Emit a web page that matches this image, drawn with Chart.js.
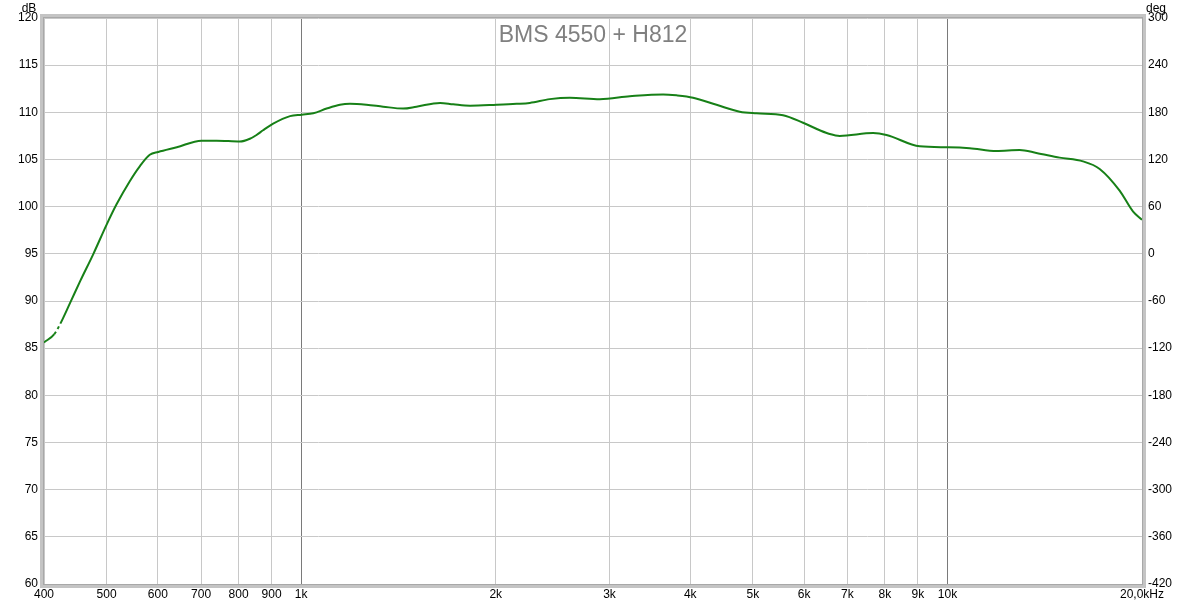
<!DOCTYPE html>
<html><head><meta charset="utf-8">
<script src="https://cdn.jsdelivr.net/npm/chart.js@4/dist/chart.umd.min.js"></script>
<style>html,body{margin:0;padding:0;background:#fff;overflow:hidden}</style>
</head><body>
<canvas id="c" width="1200" height="606"></canvas>
<script>
const titleText = 'BMS 4550 + H812';
const freqs = [400,415,424,439,455,477,500,518,543,563,583,601,642,701,740,804,833,853,873,905,961,1002,1044,1095,1148,1190,1262,1339,1438,1508,1640,1719,1825,2006,2154,2258,2425,2604,2898,3225,3631,3808,4040,4392,4771,5064,5567,5978,6344,6574,6812,7672,8047,9058,10016,10824,11908,12932,13729,14914,16210,17201,18467,19364,20000];
const spl = [85.6,86.5,87.6,89.8,92.1,95.0,98.1,100.25,102.7,104.3,105.5,105.8,106.3,107.0,107.0,106.9,107.2,107.6,108.1,108.8,109.6,109.75,109.9,110.4,110.8,110.9,110.8,110.6,110.4,110.6,111.0,110.85,110.7,110.8,110.9,111.0,111.4,111.55,111.4,111.7,111.9,111.8,111.55,110.8,110.07,109.9,109.7,108.9,108.1,107.7,107.5,107.8,107.6,106.4,106.3,106.2,105.9,106.0,105.7,105.2,104.8,104.0,101.7,99.5,98.6];
const xTickValues = [400,500,600,700,800,900,1000,2000,3000,4000,5000,6000,7000,8000,9000,10000,20000];
const xTickLabels = ['400','500','600','700','800','900','1k','2k','3k','4k','5k','6k','7k','8k','9k','10k','20,0kHz'];
const dbTicks = [60,65,70,75,80,85,90,95,100,105,110,115,120];
const degTicks = [-420,-360,-300,-240,-180,-120,-60,0,60,120,180,240,300];

const tickFont = {family: 'Arial, "Liberation Sans", sans-serif', size: 12};

const overlay = {
  id: 'overlay',
  afterDatasetsDraw(chart) {
    const {ctx, chartArea: a} = chart;
    ctx.save();
    ctx.strokeStyle = '#c4c4c4';
    ctx.lineWidth = 4;
    ctx.strokeRect(a.left - 2, a.top - 2, a.right - a.left + 4, a.bottom - a.top + 4);
    ctx.strokeStyle = '#a8a8a8';
    ctx.lineWidth = 1;
    ctx.strokeRect(a.left - 0.5, a.top - 0.5, a.right - a.left + 1, a.bottom - a.top + 1);
    ctx.fillStyle = '#808080';
    ctx.font = '23px Arial, "Liberation Sans", sans-serif';
    ctx.textAlign = 'center';
    ctx.textBaseline = 'alphabetic';
    ctx.fillText(titleText, 593, 42);
    ctx.fillStyle = '#000';
    ctx.font = '12px Arial, "Liberation Sans", sans-serif';
    ctx.fillText('dB', 29, 12);
    ctx.fillText('deg', 1156, 12);
    ctx.restore();
  }
};

new Chart(document.getElementById('c'), {
  type: 'scatter',
  data: {
    datasets: [{
      data: freqs.map((f, i) => ({x: f, y: spl[i]})),
      showLine: true,
      borderColor: '#178017',
      borderWidth: 2,
      pointRadius: 0,
      cubicInterpolationMode: 'monotone',
      segment: {borderDash: ctx => ctx.p0DataIndex === 1 ? [3, 3] : undefined},
      fill: false
    }]
  },
  options: {
    responsive: false,
    animation: false,
    layout: {padding: {top: 18, left: 0, right: 0, bottom: 0}},
    plugins: {legend: {display: false}, tooltip: {enabled: false}},
    scales: {
      x: {
        type: 'logarithmic', min: 400, max: 20000,
        afterBuildTicks(s) { s.ticks = xTickValues.map(v => ({value: v})); },
        afterFit(s) { s.height = 22; },
        ticks: {
          autoSkip: false, maxRotation: 0, padding: 3, color: '#000', font: tickFont,
          callback(v) { const i = xTickValues.indexOf(v); return i >= 0 ? xTickLabels[i] : ''; }
        },
        grid: {
          drawTicks: false,
          color(ctx) { const v = ctx.tick && ctx.tick.value; return (v === 1000 || v === 10000) ? '#7a7a7a' : '#c8c8c8'; }
        },
        border: {display: false}
      },
      y: {
        position: 'left', min: 60, max: 120,
        afterBuildTicks(s) { s.ticks = dbTicks.map(v => ({value: v})); },
        afterFit(s) { s.width = 44; },
        ticks: {padding: 6, color: '#000', font: tickFont},
        grid: {drawTicks: false, color: '#c8c8c8'},
        border: {display: false}
      },
      y2: {
        position: 'right', min: -420, max: 300,
        afterBuildTicks(s) { s.ticks = degTicks.map(v => ({value: v})); },
        afterFit(s) { s.width = 58; },
        ticks: {padding: 6, color: '#000', font: tickFont},
        grid: {display: false, drawTicks: false},
        border: {display: false}
      }
    }
  },
  plugins: [overlay]
});
</script>
</body></html>
